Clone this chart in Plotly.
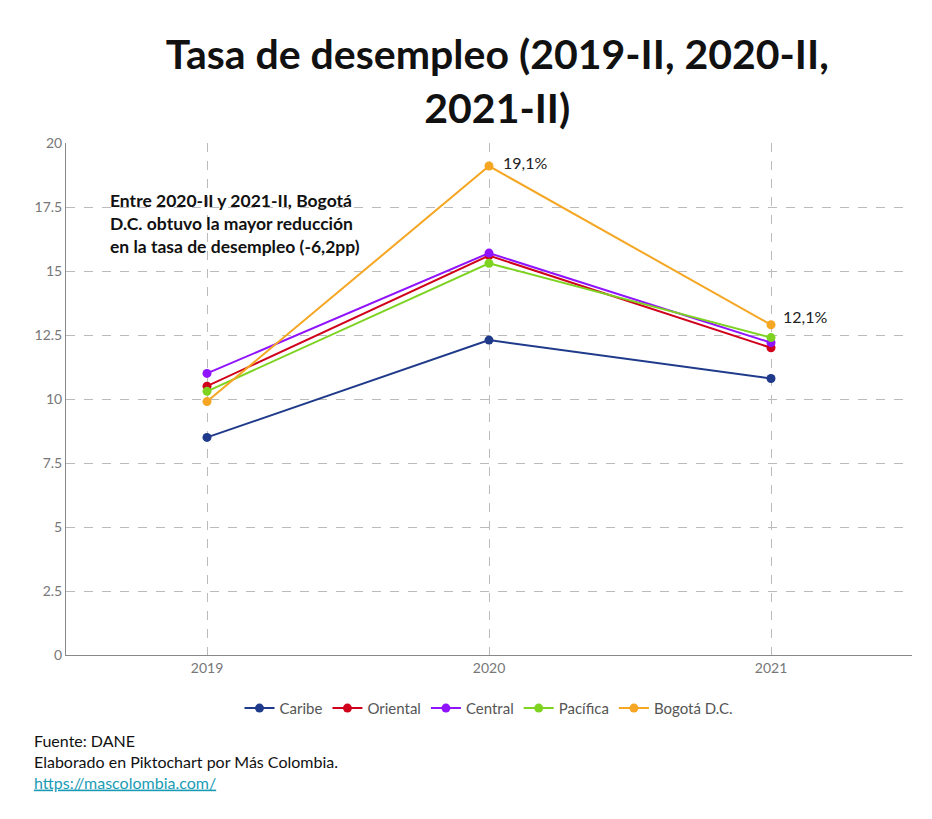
import plotly.graph_objects as go

years = ["2019", "2020", "2021"]
series_names = ["Caribe", "Oriental", "Central", "Pacífica", "Bogotá D.C."]
caribe = [8.5, 12.3, 10.8]
oriental = [10.5, 15.6, 12.0]
central = [11.0, 15.7, 12.2]
pacifica = [10.3, 15.3, 12.4]
bogota = [9.9, 19.1, 12.9]
colors = ["#1f3a8a", "#d0021b", "#9013fe", "#7ed321", "#f5a623"]
y_ticks = [0, 2.5, 5, 7.5, 10, 12.5, 15, 17.5, 20]
y_tick_labels = ["0", "2.5", "5", "7.5", "10", "12.5", "15", "17.5", "20"]

fig = go.Figure()
for name, vals, c in zip(series_names, [caribe, oriental, central, pacifica, bogota], colors):
    fig.add_trace(go.Scatter(x=years, y=vals, name=name, mode="lines+markers",
                             line=dict(color=c, width=2), marker=dict(size=9, color=c)))

fig.add_annotation(x=1, y=bogota[1], text="19,1%", showarrow=False, xanchor="left", xshift=12, yshift=4,
                   font=dict(size=16, color="#222"))
fig.add_annotation(x=2, y=bogota[2], text="12,1%", showarrow=False, xanchor="left", xshift=10, yshift=8,
                   font=dict(size=16, color="#222"))
fig.add_annotation(xref="paper", yref="paper", x=0.05, y=0.913, xanchor="left", yanchor="top", align="left",
                   showarrow=False, text="<b>Entre 2020-II y 2021-II, Bogotá<br>D.C. obtuvo la mayor reducción<br>en la tasa de desempleo (-6,2pp)</b>",
                   font=dict(size=17.5, color="#111"))
fig.add_annotation(xref="paper", yref="paper", x=-0.04, y=-0.145, xanchor="left", yanchor="top", align="left",
                   showarrow=False,
                   text="Fuente: DANE<br>Elaborado en Piktochart por Más Colombia.<br><a href='https://mascolombia.com/' style='color:#1a9bb5'><u>https://mascolombia.com/</u></a>",
                   font=dict(size=16, color="#111"))

fig.update_layout(
    width=932, height=819, paper_bgcolor="white", plot_bgcolor="white",
    font=dict(family="Lato", color="#333"),
    title=dict(text="<b>Tasa de desempleo (2019-II, 2020-II,<br>2021-II)</b>", x=0.525, xanchor="center",
               yref="container", y=0.925, yanchor="top", font=dict(size=41, color="#111")),
    margin=dict(l=58, r=28, t=135, b=172, autoexpand=False),
    legend=dict(orientation="h", x=0.5, xanchor="center", y=-0.072, yanchor="top", font=dict(size=15, color="#555")),
    showlegend=True,
)
fig.update_xaxes(type="category", range=[-0.5, 2.5], showgrid=True, gridcolor="#bbb", griddash="dash",
                 showline=True, linecolor="#888", tickfont=dict(size=14, color="#777"), ticks="")
fig.update_yaxes(range=[0, 20], tickvals=y_ticks, ticktext=y_tick_labels, showgrid=True, gridcolor="#bbb",
                 griddash="dash", showline=True, linecolor="#888", zeroline=False, tickfont=dict(size=14, color="#777"))

fig.write_html("out.html")
